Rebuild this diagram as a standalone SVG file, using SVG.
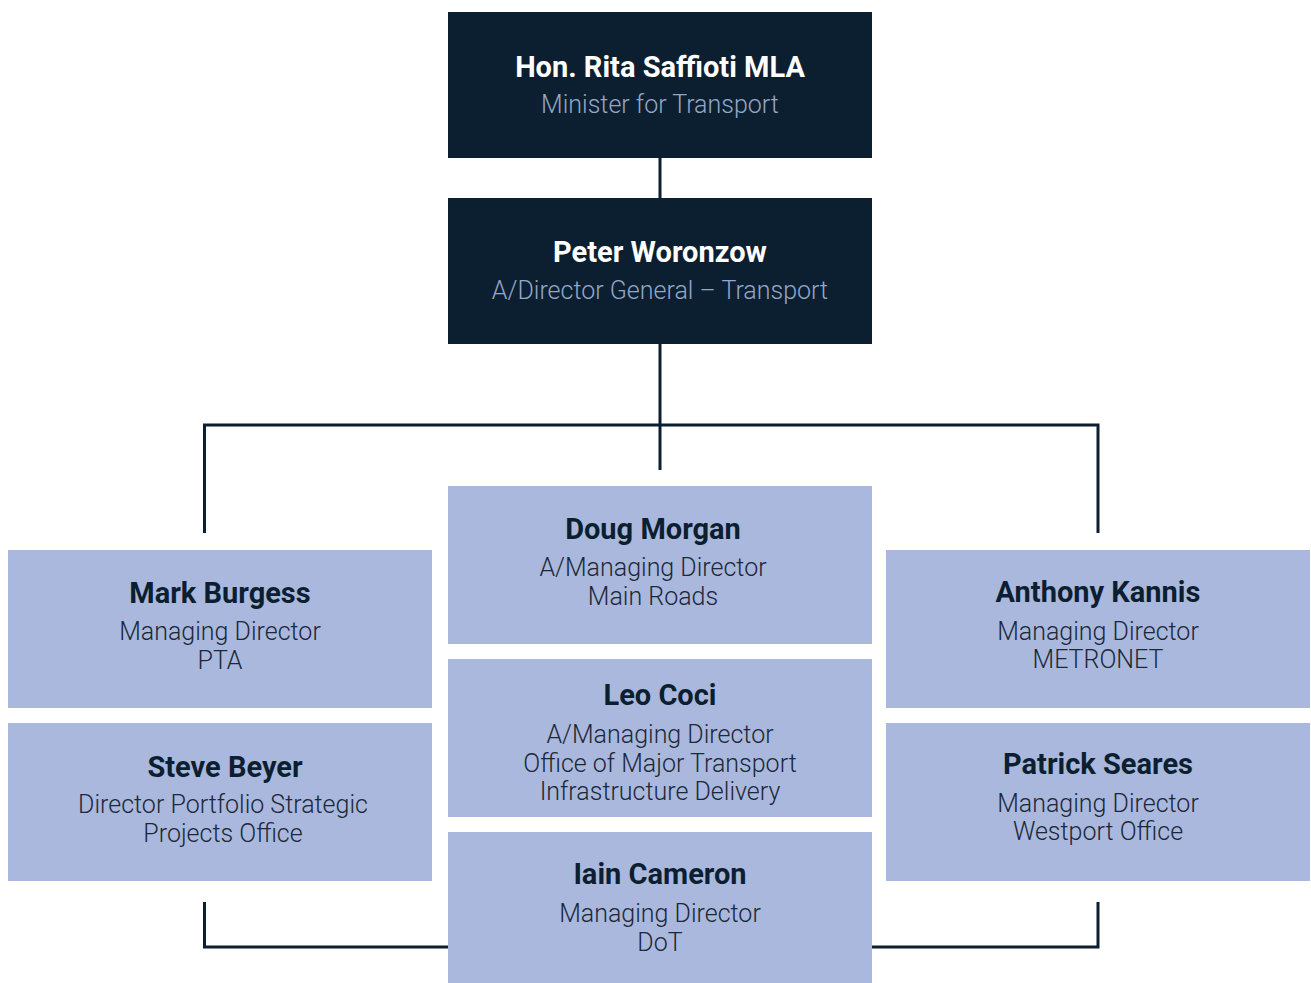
<svg xmlns="http://www.w3.org/2000/svg" width="1311" height="983" viewBox="0 0 1311 983">
<style>
.dark{fill:#0c1f30}
.light{fill:#aab8dd}
.name{font-family:Roboto,"Liberation Sans",sans-serif;font-weight:700;font-size:29px;text-anchor:middle}
.sub{font-family:Roboto,"Liberation Sans",sans-serif;font-weight:300;font-size:25px;text-anchor:middle}
.dn{fill:#ffffff}
.ds{fill:#95a6c6}
.ln{fill:#0c1f30}
.ls{fill:#1c2838}
.conn{fill:none;stroke:#0c1f30;stroke-width:3}
</style>
<rect width="1311" height="983" fill="#ffffff"/>
<g id="connectors">
<line class="conn" x1="660" y1="158" x2="660" y2="198"/>
<line class="conn" x1="660" y1="344" x2="660" y2="470"/>
<polyline class="conn" points="204.5,533 204.5,425 1098,425 1098,533"/>
<polyline class="conn" points="204.5,902 204.5,947 450,947"/>
<polyline class="conn" points="870,947 1098,947 1098,902"/>
</g>
<g id="rita">
<rect class="dark" x="448" y="12" width="424" height="146"/>
<text class="name dn" x="660" y="77">Hon. Rita Saffioti MLA</text>
<text class="sub ds" x="660" y="113">Minister for Transport</text>
</g>
<g id="peter">
<rect class="dark" x="448" y="198" width="424" height="146"/>
<text class="name dn" x="660" y="262">Peter Woronzow</text>
<text class="sub ds" x="660" y="299">A/Director General – Transport</text>
</g>
<g id="mark">
<rect class="light" x="8" y="550" width="424" height="158"/>
<text class="name ln" x="220" y="603">Mark Burgess</text>
<text class="sub ls" x="220" y="640">Managing Director</text>
<text class="sub ls" x="220" y="669">PTA</text>
</g>
<g id="steve">
<rect class="light" x="8" y="723" width="424" height="158"/>
<text class="name ln" x="225" y="777">Steve Beyer</text>
<text class="sub ls" x="223" y="813">Director Portfolio Strategic</text>
<text class="sub ls" x="223" y="842">Projects Office</text>
</g>
<g id="doug">
<rect class="light" x="448" y="486" width="424" height="158"/>
<text class="name ln" x="653" y="539">Doug Morgan</text>
<text class="sub ls" x="653" y="576">A/Managing Director</text>
<text class="sub ls" x="653" y="605">Main Roads</text>
</g>
<g id="leo">
<rect class="light" x="448" y="659" width="424" height="158"/>
<text class="name ln" x="660" y="705">Leo Coci</text>
<text class="sub ls" x="660" y="743">A/Managing Director</text>
<text class="sub ls" x="660" y="772">Office of Major Transport</text>
<text class="sub ls" x="660" y="800">Infrastructure Delivery</text>
</g>
<g id="iain">
<rect class="light" x="448" y="832" width="424" height="151"/>
<text class="name ln" x="660" y="884">Iain Cameron</text>
<text class="sub ls" x="660" y="922">Managing Director</text>
<text class="sub ls" x="660" y="951">DoT</text>
</g>
<g id="anthony">
<rect class="light" x="886" y="550" width="424" height="158"/>
<text class="name ln" x="1098" y="602">Anthony Kannis</text>
<text class="sub ls" x="1098" y="640">Managing Director</text>
<text class="sub ls" x="1098" y="668">METRONET</text>
</g>
<g id="patrick">
<rect class="light" x="886" y="723" width="424" height="158"/>
<text class="name ln" x="1098" y="774">Patrick Seares</text>
<text class="sub ls" x="1098" y="812">Managing Director</text>
<text class="sub ls" x="1098" y="840">Westport Office</text>
</g>
</svg>
